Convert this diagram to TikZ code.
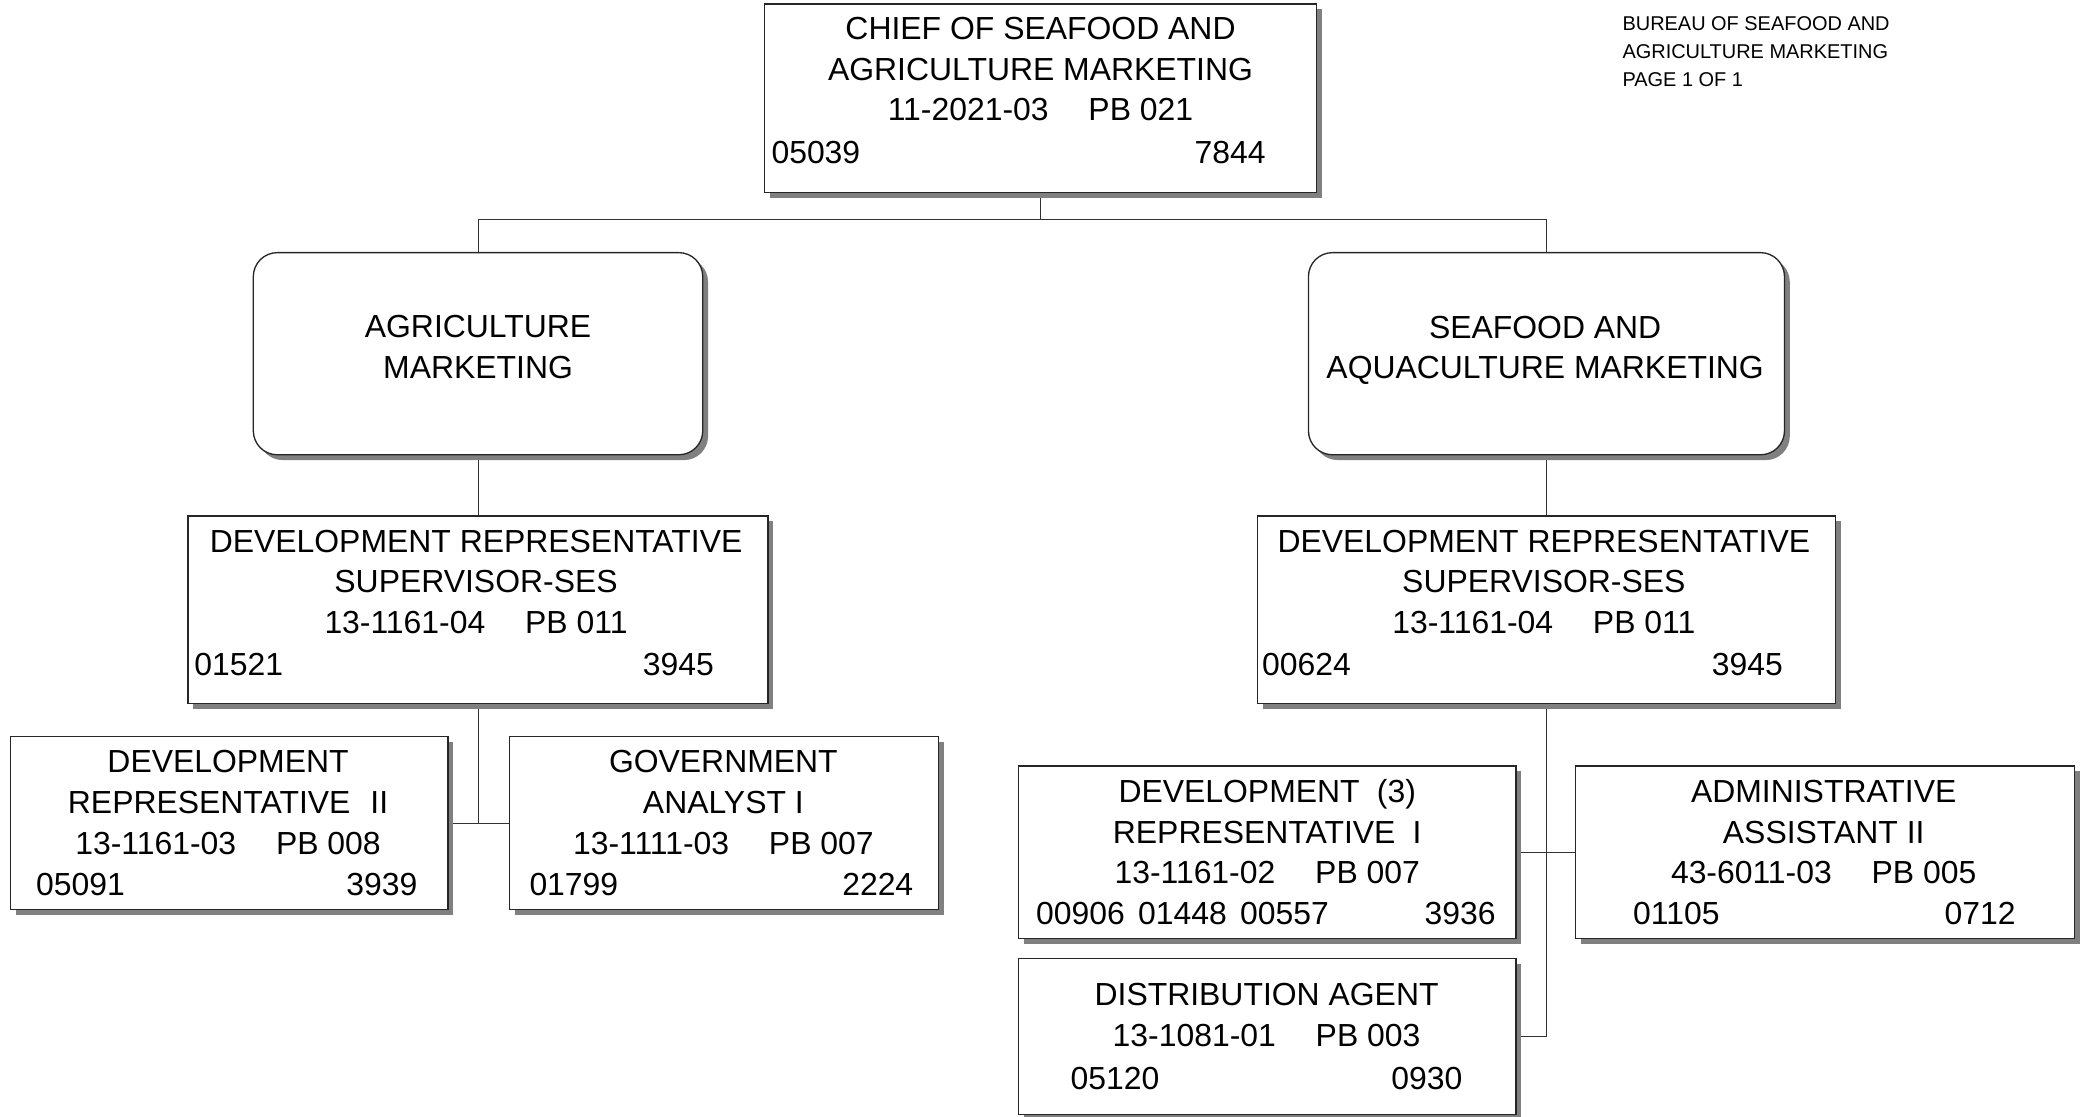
\documentclass[tikz,border=0pt]{standalone}
\usepackage{fontspec}
\setmainfont{Liberation Sans}
\usepackage{tikz}
\usetikzlibrary{shadows,backgrounds}

\newcommand\pbgap{\hspace{30pt}}

\begin{document}
\begin{tikzpicture}[x=1pt,y=-1pt,
  post/.style={draw=black!85, fill=white, line width=1pt, inner sep=0pt,
    drop shadow={shadow xshift=4pt, shadow yshift=-4pt, fill=black!50, opacity=1}},
  unit/.style={post, rounded corners=18pt},
  ttl/.style={align=center, inner sep=0pt, font=\fontsize{24}{30.5}\selectfont},
  num/.style={inner sep=0pt, font=\fontsize{24}{29}\selectfont},
  link/.style={draw=black!80, line width=0.8pt}]
\useasboundingbox (0,0) rectangle (1568,840);

% header
\node[anchor=north west, align=left, inner sep=0pt, font=\fontsize{15}{21}\selectfont] (hdr) at (1220,12.6)
  {BUREAU OF SEAFOOD AND\\AGRICULTURE MARKETING\\PAGE 1 OF 1};

% chief
\node[post, minimum width=415pt, minimum height=142pt] (chief) at (782.5,74) {};
\node[ttl] (chief-t) at (782.5,52) {CHIEF OF SEAFOOD AND\\AGRICULTURE MARKETING\\11-2021-03\pbgap PB 021};
\node[num, anchor=west] (chief-l) at (580,115) {05039};
\node[num, anchor=east] (chief-r) at (952,115) {7844};

% the two units
\node[unit, minimum width=338pt, minimum height=152pt] (agri) at (359.5,266) {};
\node[ttl] (agri-t) at (359.5,261) {AGRICULTURE\\MARKETING};
\node[unit, minimum width=358pt, minimum height=152pt] (seafood) at (1163,266) {};
\node[ttl] (seafood-t) at (1162,263.5) {SEAFOOD AND\\AQUACULTURE MARKETING};

% supervisors
\node[post, minimum width=436pt, minimum height=141pt] (supA) at (359.5,458.5) {};
\node[ttl] (supA-t) at (358,437.5) {DEVELOPMENT REPRESENTATIVE\\SUPERVISOR-SES\\13-1161-04\pbgap PB 011};
\node[num, anchor=west] (supA-l) at (146,500) {01521};
\node[num, anchor=east] (supA-r) at (537,500) {3945};

\node[post, minimum width=435pt, minimum height=141pt] (supS) at (1163,458.5) {};
\node[ttl] (supS-t) at (1161,437.5) {DEVELOPMENT REPRESENTATIVE\\SUPERVISOR-SES\\13-1161-04\pbgap PB 011};
\node[num, anchor=west] (supS-l) at (949,500) {00624};
\node[num, anchor=east] (supS-r) at (1341,500) {3945};

% agriculture staff
\node[post, minimum width=329pt, minimum height=130pt] (repII) at (172.5,619) {};
\node[ttl] (repII-t) at (171.5,603.5) {DEVELOPMENT\\REPRESENTATIVE\hspace{15pt}II\\13-1161-03\pbgap PB 008};
\node[num, anchor=west] (repII-l) at (27,665) {05091};
\node[num, anchor=east] (repII-r) at (314,665) {3939};

\node[post, minimum width=323pt, minimum height=130pt] (gov) at (544.5,619) {};
\node[ttl] (gov-t) at (544,603.5) {GOVERNMENT\\ANALYST I\\13-1111-03\pbgap PB 007};
\node[num, anchor=west] (gov-l) at (398,665) {01799};
\node[num, anchor=east] (gov-r) at (687,665) {2224};

% seafood staff
\node[post, minimum width=374pt, minimum height=130pt] (repI) at (953,641) {};
\node[ttl] (repI-t) at (953,625.5) {DEVELOPMENT\hspace{13pt}(3)\\REPRESENTATIVE\hspace{13pt}I\\13-1161-02\pbgap PB 007};
\node[num, anchor=west] (repI-l) at (779,687) {00906\hspace{10pt}01448\hspace{10pt}00557};
\node[num, anchor=east] (repI-r) at (1125,687) {3936};

\node[post, minimum width=375pt, minimum height=130pt] (admin) at (1372.5,641) {};
\node[ttl] (admin-t) at (1371.5,626) {ADMINISTRATIVE\\ASSISTANT II\\43-6011-03\pbgap PB 005};
\node[num, anchor=west] (admin-l) at (1228,687) {01105};
\node[num, anchor=east] (admin-r) at (1516,687) {0712};

\node[post, minimum width=374pt, minimum height=117pt] (dist) at (953,779.5) {};
\node[ttl] (dist-t) at (952.5,763.5) {DISTRIBUTION AGENT\\13-1081-01\pbgap PB 003};
\node[num, anchor=west] (dist-l) at (805,811) {05120};
\node[num, anchor=east] (dist-r) at (1100,811) {0930};

% reporting lines
\begin{scope}[on background layer]
\coordinate (bus) at (782.5,165);
\draw[link] (chief.south) -- (bus);
\draw[link] (agri.north) |- (bus) -| (seafood.north);
\draw[link] (agri.south) -- (supA.north);
\draw[link] (seafood.south) -- (supS.north);
\draw[link] (supA.south) -- (supA.south |- repII.east);
\draw[link] (repII.east) -- (gov.west);
\draw[link] (supS.south) |- (dist.east);
\draw[link] (repI.east) -- (admin.west);
\end{scope}
\end{tikzpicture}
\end{document}
